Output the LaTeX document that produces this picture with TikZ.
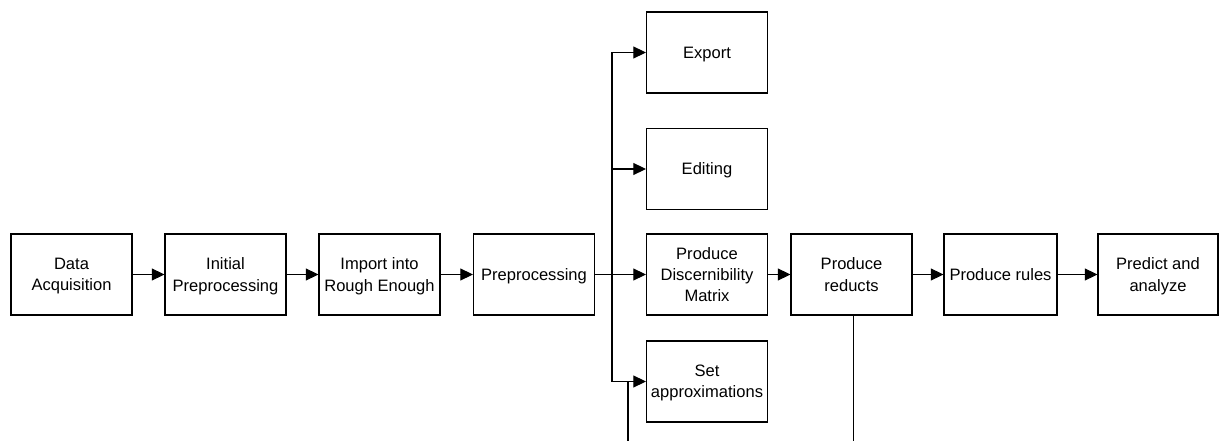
\documentclass[tikz,border=0pt]{standalone}
\usepackage{fontspec}
\setmainfont{Liberation Sans}
\usetikzlibrary{arrows.meta, positioning}
\tikzset{
  box/.style={draw=black, fill=white, line width=0.8pt, align=center, inner sep=2pt,
              minimum width=90.75pt, minimum height=60.75pt,
              font=\fontsize{12.4}{15.8}\selectfont, text=black, text depth=0pt},
  fl/.style={-{Triangle[length=9.5pt, width=9pt]}, line width=0.8pt, draw=black},
  ln/.style={line width=0.8pt, draw=black},
}
\begin{document}
\begin{tikzpicture}[x=0.75pt, y=-0.75pt]
    \useasboundingbox (0,0) rectangle (1219,441);
    \node[box] (acq) at (71.5,274.5) {Data\\Acquisition};
    \node[box] (init) at (225.5,274.5) {Initial\\Preprocessing};
    \node[box] (imp) at (379.5,274.5) {Import into\\Rough Enough};
    \node[box] (pre) at (534,274.5) {Preprocessing};
    \node[box] (exp) at (707,52.5) {Export};
    \node[box] (edit) at (707,169) {Editing};
    \node[box] (disc) at (707,274.5) {Produce\\Discernibility\\Matrix};
    \node[box] (setapp) at (707,381.5) {Set\\approximations};
    \node[box] (red) at (851.5,274.5) {Produce\\reducts};
    \node[box, minimum width=84.75pt] (rules) at (1000.5,274.5) {Produce rules};
    \node[box, minimum width=90pt] (pred) at (1158,274.5) {Predict and\\analyze};
    \coordinate (split) at (612,274.5);
    \coordinate (cutA) at (628,441);
    \draw[fl] (acq)--(init); \draw[fl] (init)--(imp); \draw[fl] (imp)--(pre); \draw[fl] (pre)--(disc);
    \draw[fl] (split) |- (exp.west); \draw[fl] (split) |- (edit.west); \draw[fl] (split) |- (setapp.west);
    \draw[fl] (disc)--(red); \draw[fl] (red)--(rules); \draw[fl] (rules)--(pred);
    \draw[ln] (cutA) -- (cutA |- setapp.west);
    \draw[ln] ([xshift=1.5]red.south) -- ([xshift=1.5]red.south |- cutA);
  \end{tikzpicture}
\end{document}
